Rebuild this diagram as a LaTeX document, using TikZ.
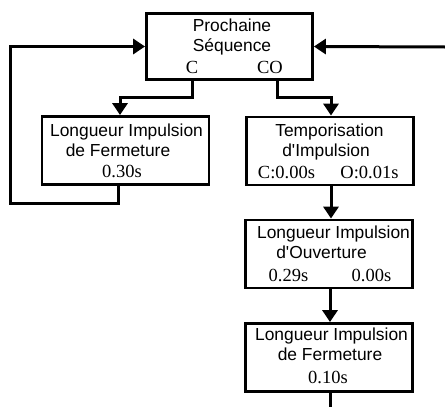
\documentclass[tikz,border=0pt]{standalone}
\usepackage{fontspec}
\setmainfont{Liberation Serif}
\newfontfamily\sansfam{Liberation Sans}
\usetikzlibrary{arrows.meta}
\begin{document}
\begin{tikzpicture}[x=1pt,y=-1pt,
  box/.style={draw, line width=2.8pt, minimum width=167pt, minimum height=68pt, inner sep=0pt},
  linkline/.style={draw, line width=3pt},
  linkarrow/.style={draw, line width=3pt, -{Triangle[width=15pt,length=12pt]}},
  st/.style={font=\sansfam\fontsize{17.4}{20}\selectfont, inner sep=0pt, anchor=base},
  sr/.style={font=\fontsize{18.5}{20}\selectfont, inner sep=0pt, anchor=base}]
\useasboundingbox (0,0) rectangle (445,407);

% blocks
\node[box, minimum width=166pt, minimum height=66pt] (seq) at (229.5,46.5) {};
\node[box] (fermA) at (125.5,150.5) {};
\node[box] (tempo) at (330,151) {};
\node[box] (ouv) at (329,254) {};
\node[box] (fermB) at (329,357.5) {};

% block texts
\node[st] (seq1) at (232,31) {Prochaine};
\node[st] (seq2) at (232,51) {Séquence};
\node[sr] (seqC) at (192,73) {C};
\node[sr] (seqCO) at (270,73) {CO};

\node[st] (fa1) at (126.5,136) {Longueur Impulsion};
\node[st] (fa2) at (118,156) {de Fermeture};
\node[sr] (fa3) at (122,177) {0.30s};

\node[st] (tp1) at (329.5,136) {Temporisation};
\node[st] (tp2) at (326,156) {d'Impulsion};
\node[sr] (tp3) at (286.5,178) {C:0.00s};
\node[sr] (tp4) at (369.5,178) {O:0.01s};

\node[st] (ov1) at (333.5,238) {Longueur Impulsion};
\node[st] (ov2) at (321.5,258) {d'Ouverture};
\node[sr] (ov3) at (288.5,281) {0.29s};
\node[sr] (ov4) at (371.5,281) {0.00s};

\node[st] (fb1) at (331.5,340) {Longueur Impulsion};
\node[st] (fb2) at (330,360) {de Fermeture};
\node[sr] (fb3) at (328,383) {0.10s};

% routing points
\coordinate (cOut) at (192,81);
\coordinate (cBend) at (120,97);
\coordinate (coOut) at (277,81);
\coordinate (coBend) at (331,97);
\coordinate (faOut) at (118,186);
\coordinate (loop) at (10,203);
\coordinate (inRight) at (445,47);
\coordinate (outBottom) at (330,407);

% connectors
\path[linkarrow] (seq.south -| cOut) |- (cBend) -- (fermA.north -| cBend);
\path[linkarrow] (seq.south -| coOut) |- (coBend) -- (tempo.north -| coBend);
\path[linkarrow] (fermA.south -| faOut) |- (loop) |- (seq.west);
\path[linkarrow] (inRight) -- (seq.east);
\path[linkarrow] (tempo.south -| coBend) -- (ouv.north -| coBend);
\path[linkarrow] (ouv.south -| outBottom) -- (fermB.north -| outBottom);
\path[linkline] (fermB.south -| outBottom) -- (outBottom);
\end{tikzpicture}
\end{document}
